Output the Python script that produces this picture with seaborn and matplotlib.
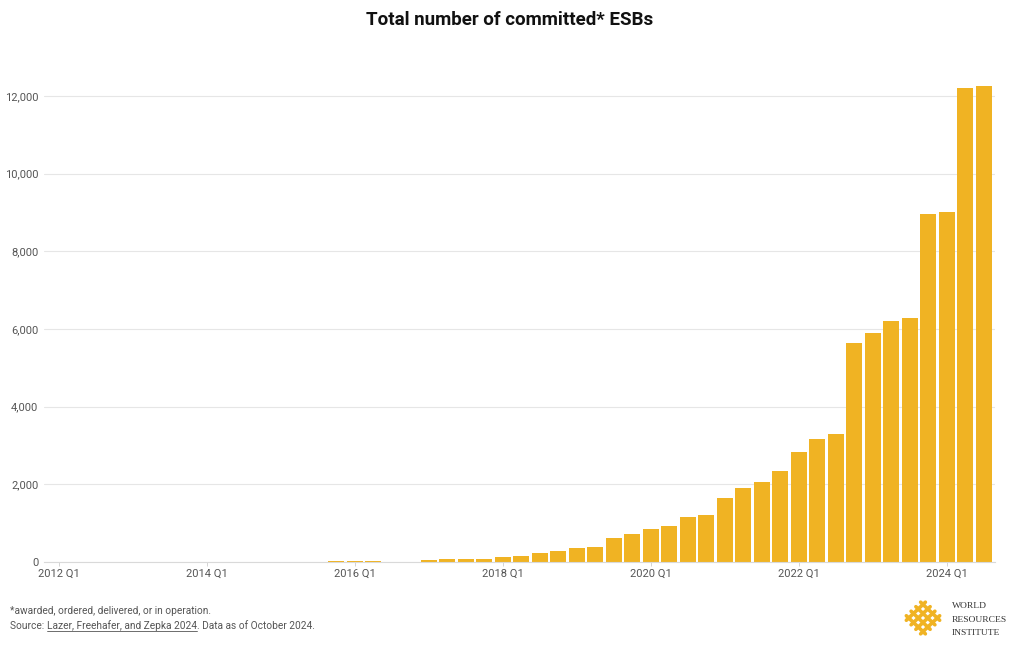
import numpy as np
import pandas as pd
import matplotlib
matplotlib.use("Agg")
import matplotlib.pyplot as plt
import seaborn as sns

# ---- data ----
years = list(range(2012, 2025))
quarters = [f"{y} Q{q}" for y in years for q in range(1, 5)][:51]  # 2012 Q1 .. 2024 Q3
esbs = [2, 0, 0, 0, 5, 0, 0, 3,
        6, 0, 0, 0, 10, 0, 0, 15,
        20, 20, 0, 0, 60, 80, 85, 90,
        130, 165, 230, 280, 370, 385, 630, 730,
        850, 920, 1160, 1220, 1655, 1915, 2050, 2335,
        2830, 3160, 3306, 5645, 5894, 6194, 6280, 8953,
        9013, 12206, 12250]
tick_labels = ["2012 Q1", "2014 Q1", "2016 Q1", "2018 Q1", "2020 Q1", "2022 Q1", "2024 Q1"]
y_ticks = [0, 2000, 4000, 6000, 8000, 10000, 12000]

title = "Total number of committed* ESBs"
note = "*awarded, ordered, delivered, or in operation."
source_pre = "Source: "
source_link = "Lazer, Freehafer, and Zepka 2024"
source_post = ". Data as of October 2024."

df = pd.DataFrame({"quarter": quarters, "esbs": esbs})

sns.set_theme(style="white")
plt.rcParams['font.family'] = ['Roboto', 'DejaVu Sans']

W, H = 1020, 650
fig = plt.figure(figsize=(W / 100, H / 100), dpi=100)
ax = fig.add_axes([44 / W, 88 / H, 951 / W, 485.4 / H])

sns.barplot(data=df, x="quarter", y="esbs", order=quarters, color="#F0B323",
            saturation=1, width=0.855, ax=ax, linewidth=0)

ax.set_xlim(-0.8, 50.6)
ax.set_ylim(0, 12500)
ax.set_yticks(y_ticks)
ax.set_yticklabels([f"{v:,}" for v in y_ticks])
pos = [quarters.index(t) for t in tick_labels]
ax.set_xticks(pos)
ax.set_xticklabels(tick_labels)
ax.set_xlabel("")
ax.set_ylabel("")
ax.grid(axis="y", color="#e6e6e6", linewidth=0.8)
ax.set_axisbelow(True)
for s in ["top", "right", "left"]:
    ax.spines[s].set_visible(False)
ax.spines["bottom"].set_color("#d9d9d9")
ax.spines["bottom"].set_linewidth(0.8)
ax.tick_params(axis="y", length=0, pad=4, labelsize=8, labelcolor="#555555")
ax.tick_params(axis="x", length=3, width=0.6, color="#cccccc", pad=2,
               labelsize=8, labelcolor="#555555", bottom=True)

fig.text(510 / W, 1 - 20 / H, title, ha="center", va="center",
         fontsize=13.5, fontweight="bold", color="#111111")

fs = 7.3
fig.text(10 / W, 1 - 611 / H, note, ha="left", va="center", fontsize=fs, color="#555555")

fig.canvas.draw()
r = fig.canvas.get_renderer()
y_src = 1 - 626 / H
t1 = fig.text(10 / W, y_src, source_pre, ha="left", va="center", fontsize=fs, color="#555555")
bb1 = t1.get_window_extent(r)
t2 = fig.text(bb1.x1 / W, y_src, source_link, ha="left", va="center", fontsize=fs, color="#555555")
bb2 = t2.get_window_extent(r)
fig.add_artist(plt.Line2D([bb2.x0 / W, bb2.x1 / W], [(bb2.y0 + 0.5) / H] * 2,
                          transform=fig.transFigure, color="#555555", linewidth=0.6))
fig.text(bb2.x1 / W, y_src, source_post, ha="left", va="center", fontsize=fs, color="#555555")

# WRI logo (approximate lattice diamond)
lax = fig.add_axes([903 / W, 1 - 637 / H, 40 / W, 38 / H])
lax.axis("off")
yel = "#F0B323"
for c in [-0.75, -0.25, 0.25, 0.75]:
    v = np.array([-1, 1])
    lax.plot(c + v, c - v, color=yel, linewidth=2.6, solid_capstyle="round")
    lax.plot(v + c, v - c, color=yel, linewidth=2.6, solid_capstyle="round")
lax.set_xlim(-2.1, 2.1)
lax.set_ylim(-2.1, 2.1)

for i, word in enumerate(["WORLD", "RESOURCES", "INSTITUTE"]):
    fig.text(952 / W, 1 - (606 + i * 13.5) / H, word, ha="left", va="center",
             fontsize=6.8, color="#333333", family=["Liberation Serif", "DejaVu Serif"])

fig.savefig("out.png", dpi=100)
